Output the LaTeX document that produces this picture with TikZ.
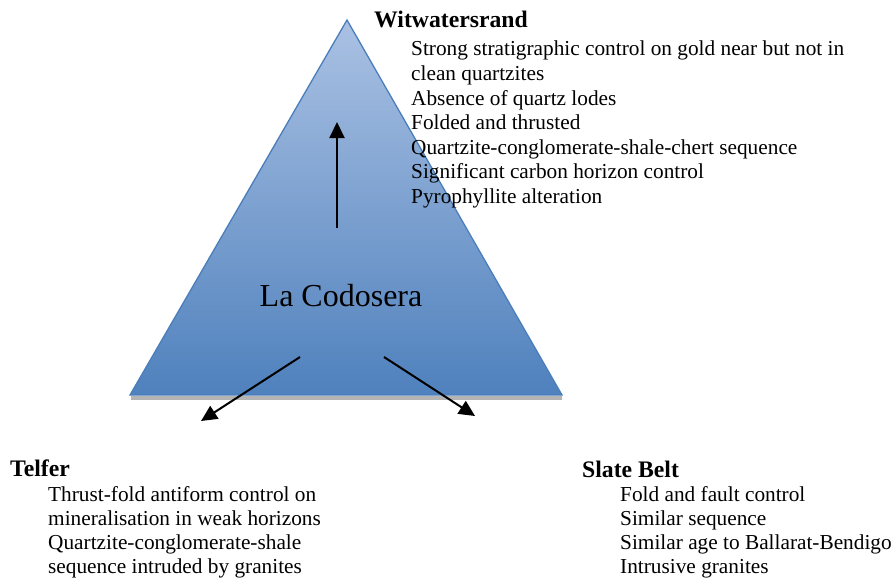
\documentclass[tikz,border=0pt]{standalone}
\usepackage{fontspec}
\setmainfont{Liberation Serif}
\usetikzlibrary{arrows.meta}
\definecolor{triTop}{RGB}{170,193,227}
\definecolor{triBot}{RGB}{79,129,189}
\definecolor{triEdge}{RGB}{74,126,187}
\definecolor{shadowgray}{RGB}{180,180,180}
\tikzset{
  body/.style={font=\fontsize{21.3}{24.5}\selectfont, anchor=base west, inner sep=0pt},
  head/.style={font=\fontsize{23.7}{27}\selectfont\bfseries, anchor=base west, inner sep=0pt},
  arr/.style={line width=2pt, -{Triangle[length=16pt,width=15pt]}}
}
\begin{document}
\begin{tikzpicture}[x=1pt,y=-1pt]
\useasboundingbox (0,0) rectangle (894,578);
\coordinate (apex) at (347,20);
\coordinate (bl) at (130,395);
\coordinate (br) at (562,395);
% shadow strip under base
\fill[shadowgray] (131,395.5) rectangle (562,400);
\shade[top color=triTop, bottom color=triBot] (apex) -- (br) -- (bl) -- cycle;
\draw[triEdge, line width=1.3pt, line join=miter] (apex) -- (br) -- (bl) -- cycle;
\node[font=\fontsize{32}{36}\selectfont, anchor=base, inner sep=0pt] (center) at (341,306) {La Codosera};
% arrows
\coordinate (upS) at (337,228);
\coordinate (upE) at (337,122);
\coordinate (lS) at (300,357);
\coordinate (lE) at (201,421);
\coordinate (rS) at (384,357);
\coordinate (rE) at (475,416);
\draw[arr] (upS) -- (upE);
\draw[arr] (lS) -- (lE);
\draw[arr] (rS) -- (rE);
% Witwatersrand
\node[head] (wh) at (374,28) {Witwatersrand};
\foreach \t [count=\i] in {Strong stratigraphic control on gold near but not in,
  clean quartzites, Absence of quartz lodes, Folded and thrusted,
  Quartzite-conglomerate-shale-chert sequence, Significant carbon horizon control,
  Pyrophyllite alteration}
  \node[body] (w\i) at (411,{56+24.5*(\i-1)}) {\t};
% Telfer
\node[head] (th) at (10,476) {Telfer};
\foreach \t [count=\i] in {Thrust-fold antiform control on, mineralisation in weak horizons,
  Quartzite-conglomerate-shale, sequence intruded by granites}
  \node[body] (t\i) at (48,{501+24*(\i-1)}) {\t};
% Slate Belt
\node[head] (sh) at (582,477) {Slate Belt};
\foreach \t [count=\i] in {Fold and fault control, Similar sequence,
  Similar age to Ballarat-Bendigo, Intrusive granites}
  \node[body] (s\i) at (620,{501.5+24*(\i-1)}) {\t};
\end{tikzpicture}
\end{document}
